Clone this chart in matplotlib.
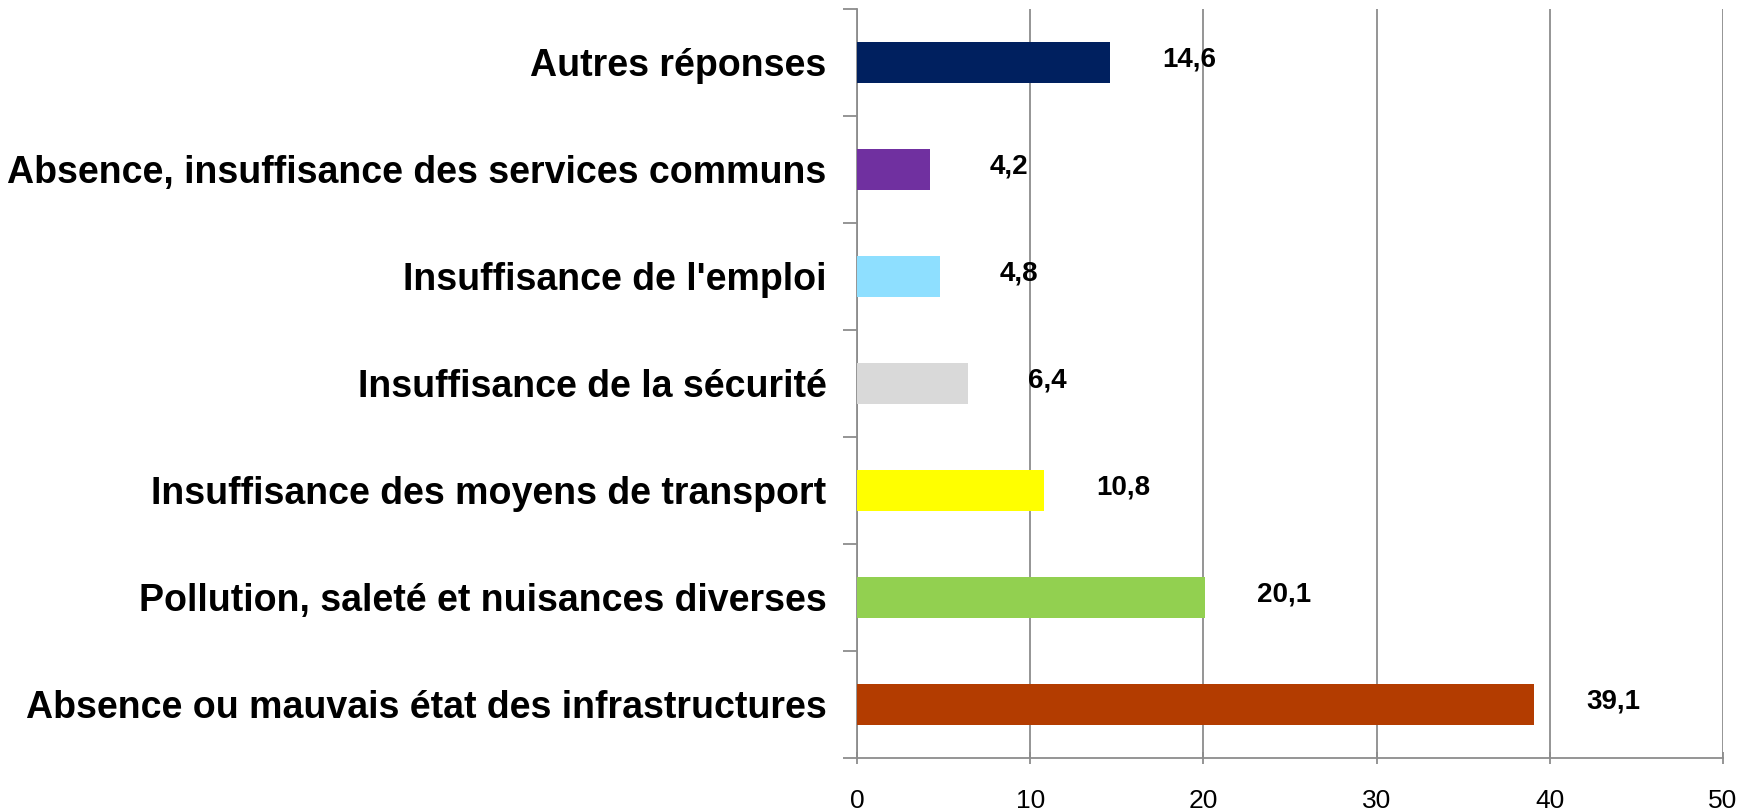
import numpy as np
import matplotlib.pyplot as plt

# data (bottom to top)
categories = ["Absence ou mauvais état des infrastructures",
              "Pollution, saleté et nuisances diverses",
              "Insuffisance des moyens de transport",
              "Insuffisance de la sécurité",
              "Insuffisance de l'emploi",
              "Absence, insuffisance des services communs",
              "Autres réponses"]
values = [39.1, 20.1, 10.8, 6.4, 4.8, 4.2, 14.6]
colors = ["#B33C00", "#92D050", "#FFFF00", "#D9D9D9", "#8EDFFF", "#7030A0", "#00205F"]
xticks = [0, 10, 20, 30, 40, 50]

plt.rcParams['font.family'] = ['Liberation Sans', 'DejaVu Sans']

fig = plt.figure(figsize=(17.54, 8.11), dpi=100)
ax = fig.add_axes([0.4886, 0.0654, 0.4937, 0.9236])

y = np.arange(len(categories))
ax.barh(y, values, height=0.39, color=colors, zorder=3)

# value labels
for yi, v in zip(y, values):
    ax.annotate(("%.1f" % v).replace(".", ","), (v, yi), xytext=(57, 2),
                textcoords="offset points", ha="center", va="center",
                fontsize=20, fontweight="bold", zorder=4)

ax.set_xlim(0, 50)
ax.set_ylim(-0.5, len(categories) - 0.5)
ax.set_xticks(xticks)
ax.set_xticklabels([str(t) for t in xticks], fontsize=19)
ax.set_yticks(y)
ax.set_yticklabels(categories, fontsize=27, fontweight="bold")
ax.set_yticks(np.arange(-0.5, len(categories), 1), minor=True)

ax.grid(axis="x", color="#8C8C8C", linewidth=1.3, zorder=0)
for s in ["top", "right"]:
    ax.spines[s].set_visible(False)
for s in ["left", "bottom"]:
    ax.spines[s].set_color("#8C8C8C")
    ax.spines[s].set_linewidth(1.3)

ax.tick_params(axis="y", which="major", length=0, pad=22)
ax.tick_params(axis="y", which="minor", length=10, color="#8C8C8C", width=1.3)
ax.tick_params(axis="x", which="major", length=8, color="#8C8C8C", width=1.3,
               direction="inout", pad=18)

fig.savefig("out.png", dpi=100)
